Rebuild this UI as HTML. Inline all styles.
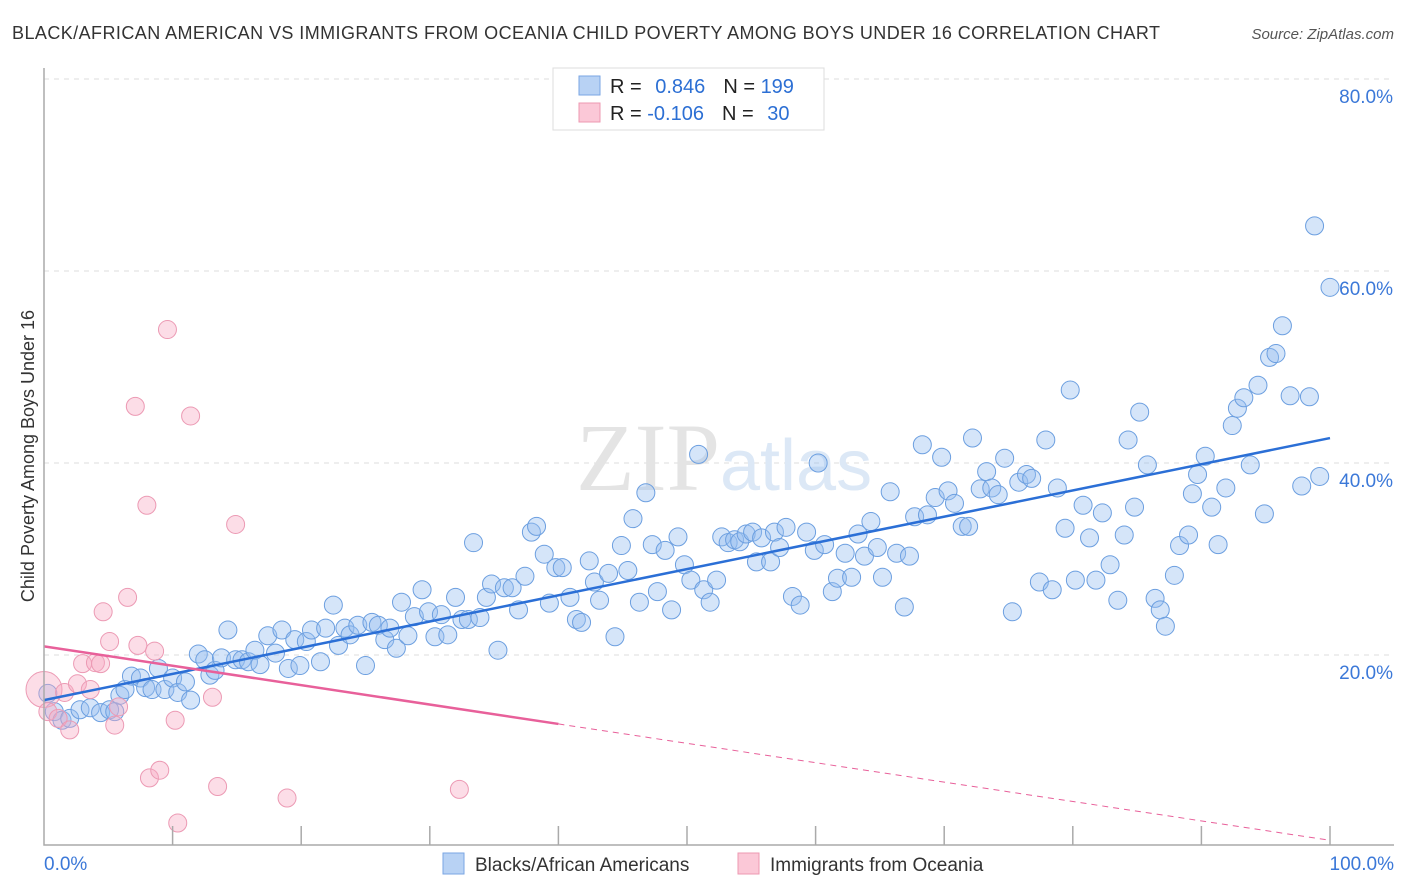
<!DOCTYPE html>
<html><head><meta charset="utf-8"><style>
body{margin:0;background:#fff;font-family:"Liberation Sans",sans-serif;}
#wrap{position:relative;width:1406px;height:892px;overflow:hidden;}
</style></head><body>
<div id="wrap">
<svg id="chart" width="1406" height="892">
<text x="12" y="39" font-size="18" fill="#333" textLength="1148" lengthAdjust="spacing">BLACK/AFRICAN AMERICAN VS IMMIGRANTS FROM OCEANIA CHILD POVERTY AMONG BOYS UNDER 16 CORRELATION CHART</text>
<text x="1394" y="39" font-size="15" fill="#555" font-style="italic" text-anchor="end">Source: ZipAtlas.com</text>
<text x="34" y="456" font-size="18" fill="#333" text-anchor="middle" transform="rotate(-90 34 456)">Child Poverty Among Boys Under 16</text>
<g id="grid"></g>
<text x="720" y="490" font-size="96" fill="#e4e4e4" text-anchor="end" font-family="Liberation Serif,serif">ZIP</text>
<text x="720" y="490" font-size="72" fill="#dce8f6">atlas</text>
<g id="marks"></g>
<g id="axes"></g>
<g>
<rect x="553" y="68" width="271" height="62" fill="#fff" stroke="#ddd"/>
<rect x="579" y="76" width="21" height="19" fill="#b8d2f4" stroke="#7aa6e3"/>
<rect x="579" y="103" width="21" height="19" fill="#fbc8d7" stroke="#ee98b2"/>
<text x="610" y="93" font-size="20" fill="#222">R = <tspan fill="#2c6fd4" dx="8">0.846</tspan><tspan fill="#222" dx="18">N = </tspan><tspan fill="#2c6fd4">199</tspan></text>
<text x="610" y="120" font-size="20" fill="#222">R = <tspan fill="#2c6fd4">-0.106</tspan><tspan fill="#222" dx="18">N = </tspan><tspan fill="#2c6fd4" dx="8">30</tspan></text>
</g>
<g>
<rect x="443" y="853" width="21" height="21" fill="#b8d2f4" stroke="#7aa6e3"/>
<text x="475" y="871" font-size="19" fill="#333">Blacks/African Americans</text>
<rect x="738" y="853" width="21" height="21" fill="#fbc8d7" stroke="#ee98b2"/>
<text x="770" y="871" font-size="19" fill="#333">Immigrants from Oceania</text>
</g>
</svg>
</div>
<script>
const blueX=[0.3,0.8,1.4,2.0,2.8,3.6,4.4,5.1,5.5,5.9,6.3,6.8,7.5,7.9,8.4,8.9,9.4,10.0,10.4,11.0,11.4,12.0,12.5,12.9,13.3,13.8,14.3,14.9,15.4,15.9,16.4,16.8,17.4,18.0,18.5,19.0,19.5,19.9,20.4,20.8,21.5,21.9,22.5,22.9,23.4,23.8,24.4,25.0,25.5,26.0,26.5,26.9,27.4,27.8,28.3,28.8,29.4,29.9,30.4,30.9,31.4,32.0,32.5,33.0,33.4,33.9,34.4,34.8,35.3,35.8,36.4,36.9,37.4,37.9,38.3,38.9,39.3,39.8,40.3,40.9,41.4,41.8,42.4,42.8,43.2,43.9,44.4,44.9,45.4,45.8,46.3,46.8,47.3,47.7,48.3,48.8,49.3,49.8,50.3,50.9,51.3,51.8,52.3,52.7,53.2,53.7,54.1,54.6,55.1,55.4,55.8,56.5,56.8,57.2,57.7,58.2,58.8,59.3,59.9,60.2,60.7,61.3,61.7,62.3,62.8,63.3,63.8,64.3,64.8,65.2,65.8,66.3,66.9,67.3,67.7,68.3,68.7,69.3,69.8,70.3,70.8,71.4,71.9,72.2,72.8,73.3,73.7,74.2,74.7,75.3,75.8,76.4,76.8,77.4,77.9,78.4,78.8,79.4,79.8,80.2,80.8,81.3,81.8,82.3,82.9,83.5,84.0,84.3,84.8,85.2,85.8,86.4,86.8,87.2,87.9,88.3,89.0,89.3,89.7,90.3,90.8,91.3,91.9,92.4,92.8,93.3,93.8,94.4,94.9,95.3,95.8,96.3,96.9,97.8,98.4,98.8,99.2,100.0];
const blueY=[16.0,14.1,13.2,13.4,14.3,14.5,14.0,14.3,14.1,15.8,16.4,17.8,17.6,16.6,16.4,18.6,16.4,17.6,16.1,17.2,15.3,20.1,19.5,17.9,18.4,19.7,22.6,19.5,19.5,19.3,20.5,19.0,22.0,20.2,22.6,18.6,21.6,18.9,21.4,22.6,19.3,22.8,25.2,21.0,22.8,22.1,23.1,18.9,23.4,23.1,21.6,22.8,20.7,25.5,22.0,24.0,26.8,24.5,21.9,24.2,22.1,26.0,23.7,23.7,31.7,23.9,26.0,27.4,20.5,27.0,27.0,24.7,28.2,32.8,33.4,30.5,25.4,29.1,29.1,26.0,23.7,23.4,29.8,27.6,25.7,28.5,21.9,31.4,28.8,34.2,25.5,36.9,31.5,26.6,30.9,24.7,32.3,29.4,27.8,40.9,26.8,25.5,27.8,32.3,31.7,32.0,31.8,32.6,32.8,29.7,32.2,29.7,32.8,31.2,33.3,26.1,25.2,32.8,30.9,40.0,31.5,26.6,28.0,30.6,28.1,32.6,30.3,33.9,31.2,28.1,37.0,30.6,25.0,30.3,34.4,41.9,34.6,36.4,40.6,37.1,35.8,33.4,33.4,42.6,37.3,39.1,37.4,36.7,40.5,24.5,38.0,38.8,38.4,27.6,42.4,26.8,37.4,33.2,47.6,27.8,35.6,32.2,27.8,34.8,29.4,25.7,32.5,42.4,35.4,45.3,39.8,25.9,24.7,23.0,28.3,31.4,32.5,36.8,38.8,40.7,35.4,31.5,37.4,43.9,45.7,46.8,39.8,48.1,34.7,51.0,51.4,54.3,47.0,37.6,46.9,64.7,38.6,58.3];
const pinkX=[0,0.3,1.1,1.6,2.0,2.6,3.0,3.6,4.0,4.4,4.6,5.1,5.5,5.8,6.5,7.1,7.3,8.0,8.2,8.6,9.0,9.6,10.2,10.4,11.4,13.1,13.5,14.9,18.9,32.3];
const pinkY=[16.4,14.1,13.4,16.1,12.2,17.0,19.1,16.4,19.2,19.1,24.5,21.4,12.7,14.6,26.0,45.9,21.0,35.6,7.2,20.4,8.0,53.9,13.2,2.5,44.9,15.6,6.3,33.6,5.1,6.0];
const pinkSize=[18,9,9,9,9,9,9,9,9,9,9,9,9,9,9,9,9,9,9,9,9,9,9,9,9,9,9,9,9,9];
const blueTrend=[15.3,42.6];
const pinkTrend=[20.9,0.7];
const yTicks=[20,40,60,80];
const xTicks=[0,10,20,30,40,50,60,70,80,90,100];

const NS='http://www.w3.org/2000/svg';
const sx=v=>44+v*12.86;
const sy=v=>847-v*9.6;
function mk(tag,attrs,parent){const e=document.createElementNS(NS,tag);for(const k in attrs)e.setAttribute(k,attrs[k]);parent.appendChild(e);return e;}
const grid=document.getElementById('grid'),marks=document.getElementById('marks'),axes=document.getElementById('axes');
yTicks.forEach(t=>{
  const l=mk('line',{x1:44,x2:1394,y1:sy(t),y2:sy(t),stroke:'#ddd','stroke-dasharray':'5,5'},grid);
  
  
  const tx=mk('text',{x:1393,y:sy(t)+24,'font-size':19,fill:'#3b78d8','text-anchor':'end'},axes);
  tx.textContent=t.toFixed(1)+'%';
  
  
});
const ax=mk('path',{d:'M44 68 V845 H1394',fill:'none',stroke:'#aaa','stroke-width':1.5},axes);


xTicks.forEach(t=>{
  if(t===0)return;
  const l=mk('line',{x1:sx(t),x2:sx(t),y1:826,y2:845,stroke:'#aaa','stroke-width':1.5},axes);
  
  
});
[[0,'0.0%',44,'start'],[100,'100.0%',1394,'end']].forEach(a=>{
  const tx=mk('text',{x:a[2],y:870,'font-size':19,fill:'#3b78d8','text-anchor':a[3]},axes);
  tx.textContent=a[1];
  
  
});
blueX.forEach((x,i)=>{
  const c=mk('circle',{cx:sx(x),cy:sy(blueY[i]),r:9,fill:'rgba(150,190,240,0.4)',stroke:'#6c9fe0','stroke-width':1},marks);
  
  
});
pinkX.forEach((x,i)=>{
  const c=mk('circle',{cx:sx(x),cy:sy(pinkY[i]),r:pinkSize[i],fill:'rgba(248,170,195,0.4)',stroke:'#ec9ab4','stroke-width':1},marks);
  
  
});
const bl=mk('line',{x1:sx(0),y1:sy(blueTrend[0]),x2:sx(100),y2:sy(blueTrend[1]),stroke:'#2b6fd6','stroke-width':2.5},marks);


const pAt=x=>pinkTrend[0]+(pinkTrend[1]-pinkTrend[0])*x/100;
const pl=mk('line',{x1:sx(0),y1:sy(pAt(0)),x2:sx(40),y2:sy(pAt(40)),stroke:'#e8609a','stroke-width':2.5},marks);


const pd=mk('line',{x1:sx(40),y1:sy(pAt(40)),x2:sx(100),y2:sy(pAt(100)),stroke:'#e8609a','stroke-width':1,'stroke-dasharray':'6,5'},marks);


</script>
</body></html>
